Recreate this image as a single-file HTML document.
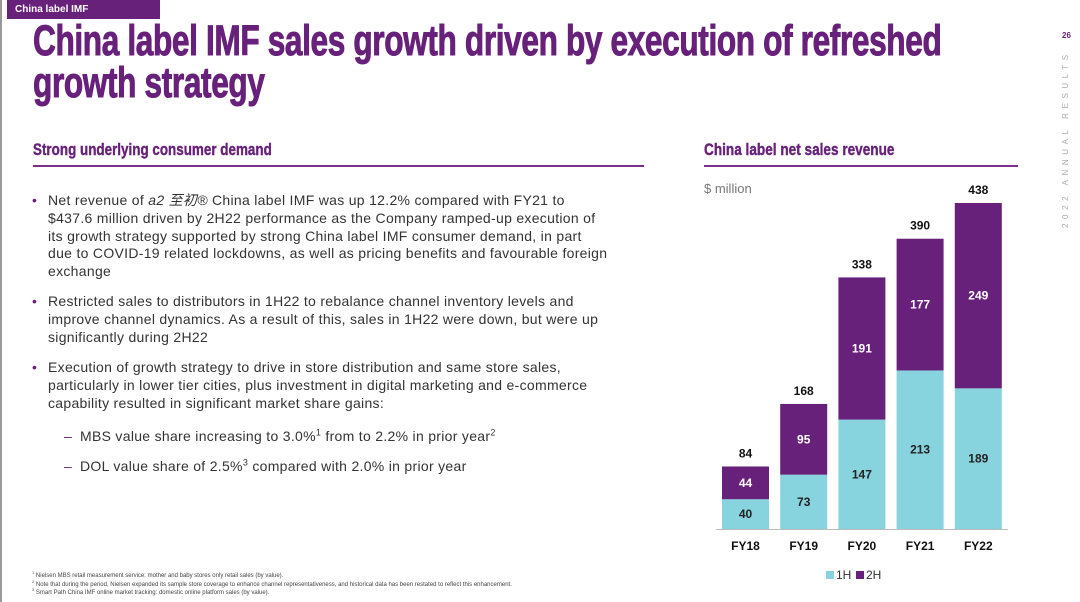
<!DOCTYPE html>
<html><head><meta charset="utf-8"><style>
body{margin:0;width:1080px;height:602px;overflow:hidden;background:#fff;font-family:"Liberation Sans","Noto Sans CJK SC",sans-serif;position:relative}
.a{position:absolute;white-space:nowrap}
.t{font-family:"Liberation Sans",sans-serif;font-weight:bold;color:#68217a;transform-origin:0 0}
.b{font-size:14px;color:#333;letter-spacing:0.3px}
.fn{font-size:6px;color:#444}
sup{font-size:9px;line-height:0}
</style></head><body>
<div class="a" style="left:0;top:0;width:2px;height:602px;background:#999"></div>
<div class="a" style="left:7px;top:0;width:153px;height:19px;background:#68217a;color:#fff;font-size:10px;font-weight:bold;line-height:19px;padding-left:8px;box-sizing:border-box">China label IMF</div>
<div class="a t" style="left:33px;top:20px;font-size:43px;line-height:42px;transform:scaleX(0.735);letter-spacing:-0.5px;-webkit-text-stroke:1px #68217a">China label IMF sales growth driven by execution of refreshed<br>growth strategy</div>
<div class="a" style="left:1062px;top:31px;font-size:8px;color:#68217a;font-weight:bold">26</div>
<div class="a" style="left:1061px;top:228px;font-size:8px;color:#aaa;letter-spacing:4.6px;transform:rotate(-90deg);transform-origin:0 0">2022 ANNUAL RESULTS</div>

<div class="a t" style="left:33px;top:140px;font-size:17px;transform:scaleX(0.79);-webkit-text-stroke:0.4px #68217a">Strong underlying consumer demand</div>
<div class="a" style="left:33px;top:165px;width:611px;height:2px;background:#7b2f8c"></div>
<div class="a t" style="left:704px;top:140px;font-size:17px;transform:scaleX(0.80);-webkit-text-stroke:0.4px #68217a">China label net sales revenue</div>
<div class="a" style="left:704px;top:165px;width:314px;height:2px;background:#7b2f8c"></div>

<div>
<div class="a b" style="left:32px;top:192px;color:#68217a">•</div>
<div class="a b" style="left:48px;top:192px;line-height:17.8px">Net revenue of <i>a2 至初®</i> China label IMF was up 12.2% compared with FY21 to<br>$437.6 million driven by 2H22 performance as the Company ramped-up execution of<br>its growth strategy supported by strong China label IMF consumer demand, in part<br>due to COVID-19 related lockdowns, as well as pricing benefits and favourable foreign<br>exchange</div>
<div class="a b" style="left:32px;top:293px;color:#68217a">•</div>
<div class="a b" style="left:48px;top:293px;line-height:17.8px">Restricted sales to distributors in 1H22 to rebalance channel inventory levels and<br>improve channel dynamics. As a result of this, sales in 1H22 were down, but were up<br>significantly during 2H22</div>
<div class="a b" style="left:32px;top:359px;color:#68217a">•</div>
<div class="a b" style="left:48px;top:359px;line-height:17.8px">Execution of growth strategy to drive in store distribution and same store sales,<br>particularly in lower tier cities, plus investment in digital marketing and e-commerce<br>capability resulted in significant market share gains:</div>
<div class="a b" style="left:64px;top:428px;color:#68217a">–</div>
<div class="a b" style="left:80px;top:428px">MBS value share increasing to 3.0%<sup>1</sup> from to 2.2% in prior year<sup>2</sup></div>
<div class="a b" style="left:64px;top:458px;color:#68217a">–</div>
<div class="a b" style="left:80px;top:458px">DOL value share of 2.5%<sup>3</sup> compared with 2.0% in prior year</div>
</div>

<div class="a fn" style="left:32px;top:572px;line-height:8.5px"><sup style="font-size:4px">1</sup> Nielsen MBS retail measurement service: mother and baby stores only retail sales (by value).<br><sup style="font-size:4px">2</sup> Note that during the period, Nielsen expanded its sample store coverage to enhance channel representativeness, and historical data has been restated to reflect this enhancement.<br><sup style="font-size:4px">3</sup> Smart Path China IMF online market tracking: domestic online platform sales (by value).</div>

<div class="a" style="left:704px;top:181px;font-size:13px;color:#777">$ million</div>

<svg class="a" id="chart" style="left:0;top:0" width="1080" height="602"></svg>
<script>
const categories=["FY18","FY19","FY20","FY21","FY22"];
const firstHalf=[40,73,147,213,189];
const secondHalf=[44,95,191,177,249];
const totals=[84,168,338,390,438];
const NS="http://www.w3.org/2000/svg";
const svg=document.getElementById("chart");
const base=529,scale=326/438,x0=722,step=58.2,bw=47;
const y=v=>base-v*scale;
function mk(tag,attrs,text){const e=document.createElementNS(NS,tag);for(const k in attrs)e.setAttribute(k,attrs[k]);if(text!==undefined)e.textContent=text;svg.appendChild(e);return e;}
categories.forEach((c,i)=>{
 const x=x0+i*step;
 const r1=mk("rect",{x:x,y:y(firstHalf[i]),width:bw,height:firstHalf[i]*scale,fill:"#87d3de"});
 
 
 const r2=mk("rect",{x:x,y:y(firstHalf[i]+secondHalf[i]),width:bw,height:secondHalf[i]*scale,fill:"#68217a"});
 
 
 const cx=x+bw/2,st="font:bold 12px 'Liberation Sans',sans-serif";
 const l1=mk("text",{x:cx,y:(y(firstHalf[i])+base)/2+4,"text-anchor":"middle",fill:"#222",style:st},firstHalf[i]);
 
 
 const l2=mk("text",{x:cx,y:(y(firstHalf[i])+y(firstHalf[i]+secondHalf[i]))/2+4,"text-anchor":"middle",fill:"#fff",style:st},secondHalf[i]);
 
 
 const lt=mk("text",{x:cx,y:y(totals[i])-9,"text-anchor":"middle",fill:"#111",style:st},totals[i]);
 
 
 const lc=mk("text",{x:cx,y:550,"text-anchor":"middle",fill:"#111",style:st},c);
 
 
});
const ax=mk("line",{x1:716,x2:1008,y1:base+0.5,y2:base+0.5,stroke:"#bbb","stroke-width":1});


const g1=mk("rect",{x:826,y:571,width:8,height:8,fill:"#87d3de"});


const t1=mk("text",{x:836,y:579,fill:"#333",style:"font:12px 'Liberation Sans',sans-serif"},"1H");


const g2=mk("rect",{x:856,y:571,width:8,height:8,fill:"#68217a"});


const t2=mk("text",{x:866,y:579,fill:"#333",style:"font:12px 'Liberation Sans',sans-serif"},"2H");


</script>
</body></html>
